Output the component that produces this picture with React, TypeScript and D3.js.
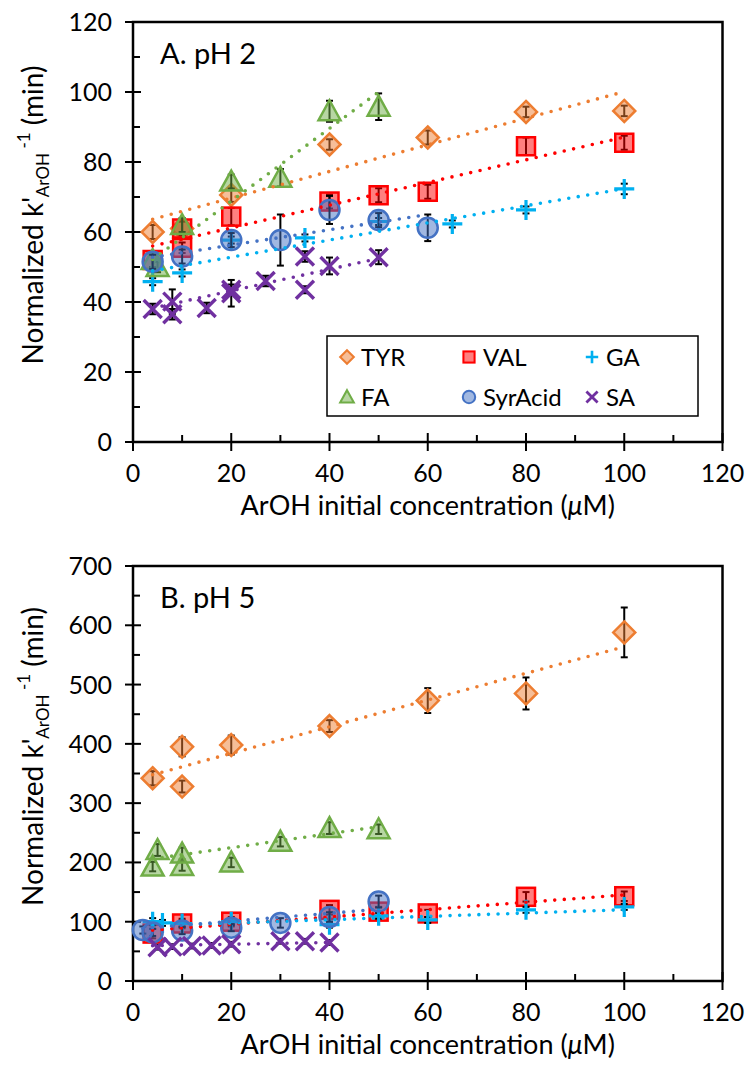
import React from 'react';
import * as d3 from 'd3';

// series: [x (µM), y (min), error]
const tyrA = [[4, 60, 2], [10, 61, 2], [20, 70.6, 2], [40, 85, 1.5], [60, 87, 2], [80, 94.3, 1.5], [100, 94.6, 1.5]];
const valA = [[4, 52, 2], [10, 61, 2], [10, 55.5, 1.5], [20, 64.4, 2.5], [40, 68.7, 2], [50, 70.5, 2], [60, 71.5, 2], [80, 84.5, 2.5], [100, 85.5, 2]];
const gaA = [[4, 45.8, 1], [10, 48.3, 1], [20, 57.7, 1], [35, 58.3, 1], [50, 63, 1], [65, 62.3, 1], [80, 66.3, 1], [100, 72.3, 1.5]];
const faA = [[4, 52, 2], [5, 50, 1.5], [10, 62, 2], [20, 74.4, 2], [30, 75.5, 2.5], [40, 94.5, 3], [50, 95.8, 3.8]];
const syrA = [[4, 51.5, 2], [10, 53, 2], [20, 57.7, 2], [30, 57.7, 7.3], [40, 66.3, 4], [50, 63.4, 2], [60, 61.2, 3.8]];
const saA = [[4, 38, 1.5], [8, 40.1, 3.5], [8, 36.5, 1.5], [15, 38.3, 1.5], [20, 42.5, 3.8], [20, 43.5, 1.5], [27, 46, 1.5], [35, 53, 1.5], [35, 43.5, 1], [40, 50.3, 2.4], [50, 52.8, 2]];

const tyrB = [[4, 342, 12], [10, 395, 16], [10, 328, 10], [20, 398, 16], [40, 430, 10], [60, 473, 21], [80, 485, 27], [100, 588, 42]];
const valB = [[4, 80, 8], [10, 97, 8], [20, 100, 8], [40, 120, 8], [50, 117, 8], [60, 114, 6], [80, 142, 8], [100, 143, 8]];
const gaB = [[4, 100, 6], [6, 98, 5], [10, 97, 5], [20, 100, 6], [40, 95, 5], [50, 110, 5], [60, 103, 5], [80, 120, 5], [100, 125, 5]];
const faB = [[4, 193, 8], [5, 221, 10], [10, 215, 10], [10, 194, 8], [20, 200, 8], [30, 235, 8], [40, 258, 10], [50, 256, 8]];
const syrB = [[2, 86, 6], [4, 82, 6], [10, 85, 6], [20, 90, 6], [30, 98, 8], [40, 108, 8], [50, 134, 10]];
const saB = [[5, 57, 4], [8, 58, 4], [12, 59, 4], [16, 60, 4], [20, 62, 4], [30, 67, 4], [35, 67, 4], [40, 65, 4]];

// trendlines: [intercept, slope, xStart, xEnd], same order as names
const trendA = [[62.1, 0.38, 4, 100], [54.7, 0.324, 4, 100], [47.9, 0.245, 4, 100], [48, 1.04, 4, 50], [51.9, 0.218, 4, 60], [37, 0.309, 4, 50]];
const trendB = [[338.9, 2.25, 4, 100], [83.2, 0.62, 4, 100], [92.2, 0.28, 4, 100], [201.3, 1.18, 4, 50], [87.4, 0.67, 2, 50], [59, 0.15, 4, 40]];

const names = ['TYR', 'VAL', 'GA', 'FA', 'SyrAcid', 'SA'];
const shapes = ['diamond', 'square', 'plus', 'triangle', 'circle', 'cross'];
const colors = ['#ED7D31', '#FF0000', '#00B0F0', '#70AD47', '#4472C4', '#7030A0'];
const xTicks = [0, 20, 40, 60, 80, 100, 120];

const FONT = 'Lato, "Open Sans", sans-serif';

const Marker = ({ shape, color, x, y, s = 1 }) => {
  const fill = { fill: color, fillOpacity: 0.5, stroke: color, strokeWidth: 2.5 * Math.min(1, s + 0.2) };
  if (shape === 'diamond') {
    const r = 11 * s;
    return <path d={`M${x},${y - r}L${x + r},${y}L${x},${y + r}L${x - r},${y}Z`} {...fill} />;
  }
  if (shape === 'square') {
    const r = 9 * s;
    return <rect x={x - r} y={y - r} width={2 * r} height={2 * r} {...fill} />;
  }
  if (shape === 'triangle') {
    const r = 11 * s;
    return <path d={`M${x},${y - r}L${x + r},${y + r * 0.82}L${x - r},${y + r * 0.82}Z`} {...fill} />;
  }
  if (shape === 'circle') {
    return <circle cx={x} cy={y} r={10 * s} {...fill} />;
  }
  if (shape === 'plus') {
    const r = 10 * s;
    return <path d={`M${x - r},${y}H${x + r}M${x},${y - r}V${y + r}`} stroke={color} strokeWidth={3.2 * Math.min(1, s + 0.2)} />;
  }
  const r = 9 * s;
  return <path d={`M${x - r},${y - r}L${x + r},${y + r}M${x + r},${y - r}L${x - r},${y + r}`} stroke={color} strokeWidth={3.4 * Math.min(1, s + 0.2)} />;
};

const Panel = ({ top, bottom, yMax, yStep, label, series, trends, legend }) => {
  const x = d3.scaleLinear().domain([0, 120]).range([133, 722.5]);
  const y = d3.scaleLinear().domain([0, yMax]).range([bottom, top]);
  const yMajor = d3.range(0, yMax + 1, yStep);
  const yMinor = d3.range(yStep / 2, yMax, yStep);
  const xMinor = d3.range(10, 120, 20);
  const line = d3.line().x(d => x(d[0])).y(d => y(d[1]));
  const midY = (top + bottom) / 2 - 17;

  return (
    <g fontFamily={FONT}>
      <rect x={x(0)} y={top} width={x(120) - x(0)} height={bottom - top} fill="none" stroke="#000" strokeWidth={2.5} />
      {yMajor.map(v => (
        <g key={'ym' + v}>
          <line x1={x(0) - 8} x2={x(0) + 8} y1={y(v)} y2={y(v)} stroke="#000" strokeWidth={2} />
          <text x={x(0) - 21} y={y(v) + 9} textAnchor="end" fontSize={25}>{v}</text>
        </g>
      ))}
      {yMinor.map(v => (
        <line key={'yn' + v} x1={x(0)} x2={x(0) + 7} y1={y(v)} y2={y(v)} stroke="#000" strokeWidth={2} />
      ))}
      {xTicks.map(v => (
        <g key={'xm' + v}>
          <line x1={x(v)} x2={x(v)} y1={y(0) - 9} y2={y(0) + 9} stroke="#000" strokeWidth={2} />
          <text x={x(v)} y={y(0) + 40} textAnchor="middle" fontSize={25}>{v}</text>
        </g>
      ))}
      {xMinor.map(v => (
        <line key={'xn' + v} x1={x(v)} x2={x(v)} y1={y(0) - 7} y2={y(0)} stroke="#000" strokeWidth={2} />
      ))}
      <text x={(x(0) + x(120)) / 2} y={y(0) + 73} textAnchor="middle" fontSize={27}>
        ArOH initial concentration (<tspan fontStyle="italic">μ</tspan>M)
      </text>
      <text transform={`translate(43,${midY}) rotate(-90)`} textAnchor="middle" fontSize={28}>
        <tspan>Normalized k'</tspan>
        <tspan fontSize={17} dy={6}>ArOH</tspan>
        <tspan fontSize={17} dy={-19}> -1</tspan>
        <tspan dy={13}> (min)</tspan>
      </text>
      <text x={160} y={top + 42} fontSize={29}>{label}</text>

      {series.map((pts, i) => (
        <g key={'s' + i}>
          {pts.map((p, j) => (
            <g key={j} stroke="#000" strokeWidth={2}>
              <line x1={x(p[0])} x2={x(p[0])} y1={y(p[1] - p[2])} y2={y(p[1] + p[2])} />
              <line x1={x(p[0]) - 3.5} x2={x(p[0]) + 3.5} y1={y(p[1] - p[2])} y2={y(p[1] - p[2])} />
              <line x1={x(p[0]) - 3.5} x2={x(p[0]) + 3.5} y1={y(p[1] + p[2])} y2={y(p[1] + p[2])} />
            </g>
          ))}
          {pts.map((p, j) => (
            <Marker key={'m' + j} shape={shapes[i]} color={colors[i]} x={x(p[0])} y={y(p[1])} />
          ))}
        </g>
      ))}

      {trends.map((t, i) => (
        <path key={'t' + i} d={line([[t[2], t[0] + t[1] * t[2]], [t[3], t[0] + t[1] * t[3]]])}
          fill="none" stroke={colors[i]} strokeWidth={3.6} strokeLinecap="round" strokeDasharray="0 9.6" />
      ))}

      {legend && (
        <g>
          <rect x={327} y={336} width={371} height={80} fill="#fff" stroke="#000" strokeWidth={1.5} />
          {names.map((n, i) => {
            const col = i % 3;
            const row = Math.floor(i / 3);
            const mx = [347, 469, 592][col];
            const cy = row === 0 ? 357 : 397;
            return (
              <g key={n}>
                <Marker shape={shapes[i]} color={colors[i]} x={mx} y={cy} s={0.62} />
                <text x={mx + 14} y={cy + 9} fontSize={24}>{n}</text>
              </g>
            );
          })}
        </g>
      )}
    </g>
  );
};

export default function App() {
  return (
    <svg width={749} height={1080} style={{ position: 'absolute', left: 0, top: 0, background: '#fff' }}>
      <rect width={749} height={1080} fill="#fff" />
      <Panel top={22} bottom={442} yMax={120} yStep={20} label="A. pH 2"
        series={[tyrA, valA, gaA, faA, syrA, saA]} trends={trendA} legend />
      <Panel top={566} bottom={981} yMax={700} yStep={100} label="B. pH 5"
        series={[tyrB, valB, gaB, faB, syrB, saB]} trends={trendB} legend={false} />
    </svg>
  );
}
